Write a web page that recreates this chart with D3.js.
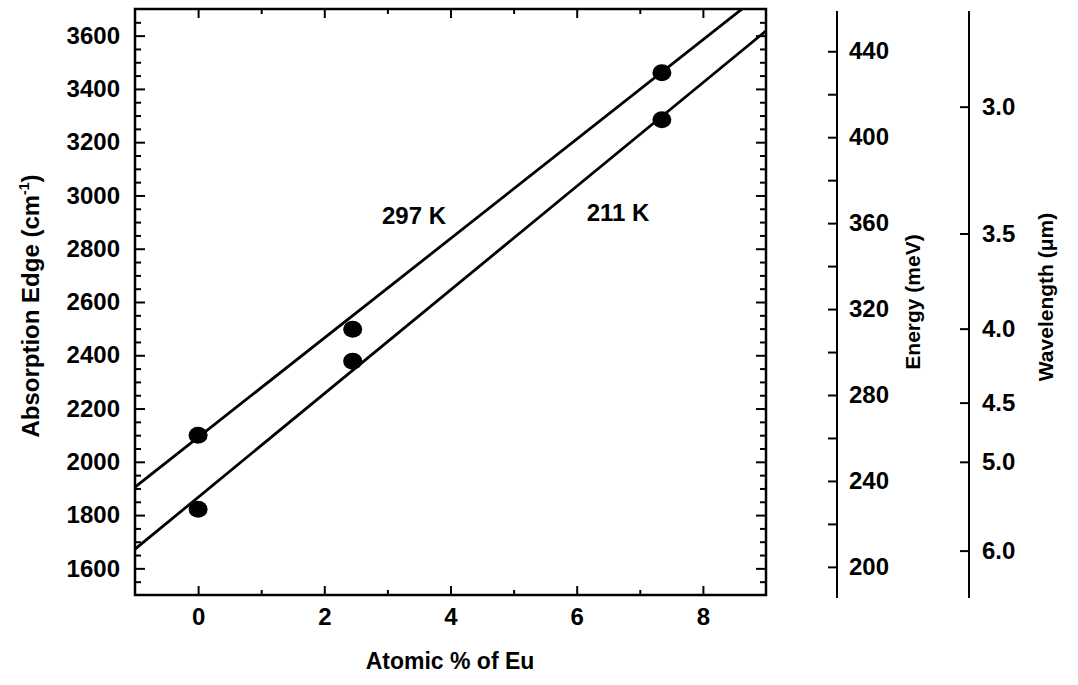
<!DOCTYPE html>
<html>
<head>
<meta charset="utf-8">
<script src="https://cdn.jsdelivr.net/npm/d3@7"></script>
<style>
  body { margin: 0; background: #fff; }
  text { font-family: "Liberation Sans", Arial, sans-serif; font-weight: bold; fill: #000; }
  .axis path.domain { display: none; }
  .axis line { stroke: #000; stroke-width: 2; }
  .axis text { font-size: 24px; }
</style>
</head>
<body>
<svg id="chart"></svg>
<script>
const WIDTH = 1078;
const HEIGHT = 685;

// measured points (Atomic % Eu, absorption edge in cm^-1)
const euPct297 = [0, 2.45, 7.35];
const edge297 = [2100, 2498, 3461];
const euPct211 = [0, 2.45, 7.35];
const edge211 = [1822, 2378, 3284];

// straight fit lines, ends read at x = -1 and x = 9
const fitX = [-1, 9];
const fit297 = [1905, 3771];
const fit211 = [1672, 3618];

const xTicks = [0, 2, 4, 6, 8];
const xMinor = [1, 3, 5, 7];
const yTicks = [1600, 1800, 2000, 2200, 2400, 2600, 2800, 3000, 3200, 3400, 3600];
const energyTicks = [200, 240, 280, 320, 360, 400, 440];
const energyMinor = [220, 260, 300, 340, 380, 420];
const waveTicks = [3.0, 3.5, 4.0, 4.5, 5.0, 6.0];

const MEV_PER_CM = 0.123984;

const plotLeft = 135, plotRight = 766, plotTop = 9, plotBottom = 595;

const svg = d3.select('#chart').attr('width', WIDTH).attr('height', HEIGHT);

const x = d3.scaleLinear().domain([-1, 9]).range([plotLeft, plotRight]);
const y = d3.scaleLinear().domain([1500, 3700]).range([plotBottom, plotTop]);
const yE = d3.scaleLinear()
  .domain([1500 * MEV_PER_CM, 3700 * MEV_PER_CM])
  .range([plotBottom + 2, plotTop + 2]);

//    Frame axes    //////////////////////////////////////////////

const minorY = d3.range(1550, 3700, 50).filter(v => v % 200 !== 0);

svg.append('g').attr('class', 'axis')
  .attr('transform', `translate(${plotLeft},0)`)
  .call(d3.axisLeft(y).tickValues(yTicks).tickFormat(d3.format('d'))
    .tickSizeInner(-10).tickSizeOuter(0).tickPadding(15));
svg.append('g').attr('class', 'axis')
  .attr('transform', `translate(${plotLeft},0)`)
  .call(d3.axisLeft(y).tickValues(minorY).tickSize(-6).tickFormat(''));
svg.append('g').attr('class', 'axis')
  .attr('transform', `translate(${plotRight},0)`)
  .call(d3.axisRight(y).tickValues(yTicks).tickSize(-10).tickFormat(''));
svg.append('g').attr('class', 'axis')
  .attr('transform', `translate(${plotRight},0)`)
  .call(d3.axisRight(y).tickValues(minorY).tickSize(-6).tickFormat(''));

svg.append('g').attr('class', 'axis')
  .attr('transform', `translate(0,${plotBottom})`)
  .call(d3.axisBottom(x).tickValues(xTicks).tickSizeInner(-9).tickSizeOuter(0).tickPadding(13));
svg.append('g').attr('class', 'axis')
  .attr('transform', `translate(0,${plotBottom})`)
  .call(d3.axisBottom(x).tickValues(xMinor).tickSize(-5).tickFormat(''));
svg.append('g').attr('class', 'axis')
  .attr('transform', `translate(0,${plotTop})`)
  .call(d3.axisTop(x).tickValues(xTicks).tickSize(-9).tickFormat(''));
svg.append('g').attr('class', 'axis')
  .attr('transform', `translate(0,${plotTop})`)
  .call(d3.axisTop(x).tickValues(xMinor).tickSize(-5).tickFormat(''));

svg.append('rect')
  .attr('x', plotLeft).attr('y', plotTop)
  .attr('width', plotRight - plotLeft).attr('height', plotBottom - plotTop)
  .attr('fill', 'none').attr('stroke', '#000').attr('stroke-width', 2.5);

//    Fit lines and points    //////////////////////////////////////

svg.append('clipPath').attr('id', 'plotClip')
  .append('rect')
  .attr('x', plotLeft).attr('y', plotTop)
  .attr('width', plotRight - plotLeft).attr('height', plotBottom - plotTop);

const line = d3.line().x(d => x(d[0])).y(d => y(d[1]));

[fit297, fit211].forEach(fit => {
  svg.append('path')
    .datum(fitX.map((v, i) => [v, fit[i]]))
    .attr('clip-path', 'url(#plotClip)')
    .attr('d', line)
    .attr('fill', 'none')
    .attr('stroke', '#000')
    .attr('stroke-width', 2.8);
});

const points = euPct297.map((v, i) => [v, edge297[i]])
  .concat(euPct211.map((v, i) => [v, edge211[i]]));

svg.selectAll('.dot')
  .data(points)
  .enter().append('ellipse')
  .attr('class', 'dot')
  .attr('cx', d => x(d[0]))
  .attr('cy', d => y(d[1]))
  .attr('rx', 9.5)
  .attr('ry', 8.5)
  .attr('fill', '#000');

svg.append('text')
  .attr('x', 414).attr('y', 224)
  .attr('text-anchor', 'middle')
  .style('font-size', '24px')
  .text('297 K');

svg.append('text')
  .attr('x', 618).attr('y', 221)
  .attr('text-anchor', 'middle')
  .style('font-size', '24px')
  .text('211 K');

//    Energy and wavelength axes    ///////////////////////////////

const energyX = 837;
const waveX = 969;

const eAxis = svg.append('g').attr('class', 'axis')
  .attr('transform', `translate(${energyX},0)`);
eAxis.call(d3.axisRight(yE)
  .tickValues(energyTicks).tickSizeInner(-9).tickSizeOuter(0).tickPadding(12));
eAxis.append('g')
  .call(d3.axisRight(yE).tickValues(energyMinor).tickSize(-9).tickFormat(''));
eAxis.append('line')
  .attr('x1', 0).attr('x2', 0).attr('y1', 11).attr('y2', 598)
  .attr('stroke', '#000').attr('stroke-width', 2.5);

const wAxis = svg.append('g').attr('class', 'axis')
  .attr('transform', `translate(${waveX},0)`);
wAxis.call(d3.axisRight(y)
  .tickValues(waveTicks.map(w => 1e4 / w))
  .tickFormat(v => (1e4 / v).toFixed(1))
  .tickSizeInner(-9).tickSizeOuter(0).tickPadding(13));
wAxis.append('line')
  .attr('x1', 0).attr('x2', 0).attr('y1', 11).attr('y2', 598)
  .attr('stroke', '#000').attr('stroke-width', 2.5);

//    Titles    ///////////////////////////////////////////////////

svg.append('text')
  .attr('x', 450).attr('y', 669)
  .attr('text-anchor', 'middle')
  .style('font-size', '23px')
  .text('Atomic % of Eu');

const yTitle = svg.append('text')
  .attr('transform', 'translate(39,306) rotate(-90)')
  .attr('text-anchor', 'middle')
  .style('font-size', '24px');
yTitle.append('tspan').text('Absorption Edge (cm');
yTitle.append('tspan').attr('dy', -10).style('font-size', '14px').text('-1');
yTitle.append('tspan').attr('dy', 10).text(')');

svg.append('text')
  .attr('transform', 'translate(920,302) rotate(-90)')
  .attr('text-anchor', 'middle')
  .style('font-size', '21px')
  .text('Energy (meV)');

svg.append('text')
  .attr('transform', 'translate(1053,297) rotate(-90)')
  .attr('text-anchor', 'middle')
  .style('font-size', '21px')
  .text('Wavelength (\u03bcm)');
</script>
</body>
</html>
